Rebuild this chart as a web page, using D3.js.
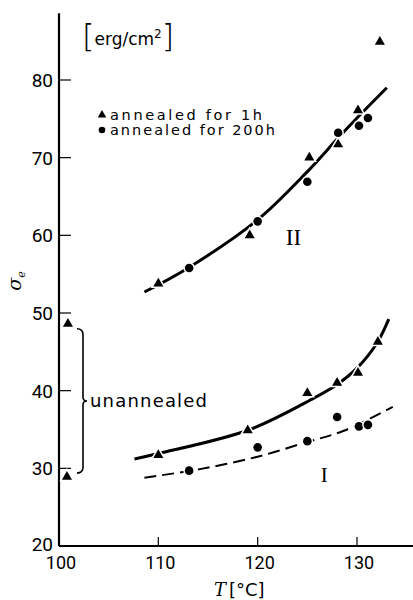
<!DOCTYPE html>
<html>
<head>
<meta charset="utf-8">
<script src="https://cdn.jsdelivr.net/npm/d3@7"></script>
<style>
  body { margin: 0; background: #fff; }
  svg { display: block; }
</style>
</head>
<body>
<svg id="chart" width="413" height="600"></svg>
<script>
// tick values
const xTicks = [100, 110, 120, 130];
const xInnerTicks = [110, 120, 130];
const yTicks = [20, 30, 40, 50, 60, 70, 80];
const yInnerTicks = [30, 40, 50, 60, 70, 80];

// measured points [T, sigma_e]
const tri1hII = [[110, 53.8], [119.2, 60.0], [125.2, 70.0], [128.1, 71.7], [130.1, 76.1], [132.3, 84.9]];
const dot200hII = [[113.1, 55.8], [120, 61.8], [125, 66.9], [128.1, 73.2], [130.2, 74.1], [131.1, 75.1]];
const tri1hI = [[110, 31.7], [119, 34.9], [125, 39.7], [128, 41.0], [130.1, 42.3], [132.1, 46.3]];
const dot200hI = [[113.1, 29.7], [120, 32.7], [125, 33.5], [128, 36.6], [130.2, 35.4], [131.1, 35.6]];
const triUnannealed = [[100.9, 48.6], [100.8, 28.9]];

// hand-drawn fit curves
const curveII = [[108.6, 52.7], [113, 55.8], [120, 62], [125, 68.2], [128, 72.4], [130, 75.1], [133, 79]];
const curveI1h = [[107.6, 31.2], [110, 31.9], [119, 34.9], [125.3, 38.8], [128, 40.8], [130, 42.9], [132, 46.1], [133.2, 49.2]];
const curveI200h = [[108.6, 28.8], [114.2, 29.9], [120, 31.5], [125, 33.4], [128.6, 34.8], [133.6, 37.9]];

const legendLabels = ['annealed for 1h', 'annealed for 200h'];
const unannealedRange = [49, 29];

const svg = d3.select('#chart');
const x = d3.scaleLinear().domain([100, 130]).range([59, 357]);
const y = d3.scaleLinear().domain([20, 80]).range([546, 80]);

const tickFont = 'Roboto, "DejaVu Sans", sans-serif';
const textFont = '"DejaVu Sans", sans-serif';

// axes
svg.append('line')
  .attr('x1', x(100)).attr('x2', 413)
  .attr('y1', y(20)).attr('y2', y(20))
  .attr('stroke', '#000').attr('stroke-width', 2.2);
svg.append('line')
  .attr('x1', x(100)).attr('x2', x(100))
  .attr('y1', y(20)).attr('y2', y(88.6))
  .attr('stroke', '#000').attr('stroke-width', 2.2);

svg.selectAll('.ytick').data(yInnerTicks).enter().append('line')
  .attr('x1', x(100)).attr('x2', x(100) + 12)
  .attr('y1', d => y(d)).attr('y2', d => y(d))
  .attr('stroke', '#000').attr('stroke-width', 1.2);
svg.selectAll('.xtick').data(xInnerTicks).enter().append('line')
  .attr('x1', d => x(d)).attr('x2', d => x(d))
  .attr('y1', y(20)).attr('y2', y(20) - 9)
  .attr('stroke', '#000').attr('stroke-width', 1.2);

svg.selectAll('.ylab').data(yTicks).enter().append('text')
  .attr('x', 53).attr('y', d => y(d) + (d === 20 ? 5 : 7))
  .attr('text-anchor', 'end')
  .attr('font-family', tickFont).attr('font-size', 19)
  .text(d => d);
svg.selectAll('.xlab').data(xTicks).enter().append('text')
  .attr('x', d => x(d) + 2).attr('y', 569)
  .attr('text-anchor', 'middle')
  .attr('font-family', tickFont).attr('font-size', 18)
  .text(d => d);

// axis titles
const yt = svg.append('text')
  .attr('transform', 'translate(21,281) rotate(-90)')
  .attr('text-anchor', 'middle')
  .attr('font-family', '"DejaVu Serif", serif').attr('font-size', 19)
  .attr('font-style', 'italic');
yt.append('tspan').text('σ');
yt.append('tspan').attr('font-size', 11).attr('dy', 4).text('e');

const xt = svg.append('text')
  .attr('x', 214).attr('y', 596)
  .attr('font-family', textFont).attr('font-size', 18);
xt.append('tspan').attr('font-family', '"DejaVu Serif", serif').attr('font-style', 'italic').text('T');
xt.append('tspan').attr('dx', 3).text('[°C]');

// unit label
const unit = svg.append('text')
  .attr('x', 82).attr('y', 45)
  .attr('font-family', textFont).attr('font-size', 17);
unit.append('tspan').attr('font-size', 32).attr('font-weight', 200).attr('dy', 2).text('[');
unit.append('tspan').attr('dy', -2).text('erg/cm');
unit.append('tspan').attr('font-size', 12).attr('dy', -7).text('2');
unit.append('tspan').attr('font-size', 32).attr('font-weight', 200).attr('dy', 9).text(']');

// curves
const line = d3.line().x(d => x(d[0])).y(d => y(d[1])).curve(d3.curveCatmullRom);
svg.append('path').datum(curveII).attr('d', line)
  .attr('fill', 'none').attr('stroke', '#000').attr('stroke-width', 3);
svg.append('path').datum(curveI1h).attr('d', line)
  .attr('fill', 'none').attr('stroke', '#000').attr('stroke-width', 3);
svg.append('path').datum(curveI200h).attr('d', line)
  .attr('fill', 'none').attr('stroke', '#000').attr('stroke-width', 2)
  .attr('stroke-dasharray', '12,6');

// markers
const triangle = d3.symbol().type(d3.symbolTriangle).size(44);
function drawTriangles(data) {
  svg.append('g').selectAll('path').data(data).enter().append('path')
    .attr('d', triangle)
    .attr('transform', d => `translate(${x(d[0])},${y(d[1])})`)
    .attr('fill', '#000').attr('stroke', '#fff').attr('stroke-width', 3)
    .attr('paint-order', 'stroke');
}
function drawDots(data) {
  svg.append('g').selectAll('circle').data(data).enter().append('circle')
    .attr('cx', d => x(d[0])).attr('cy', d => y(d[1])).attr('r', 4.3)
    .attr('fill', '#000').attr('stroke', '#fff').attr('stroke-width', 3)
    .attr('paint-order', 'stroke');
}
drawTriangles(tri1hII);
drawTriangles(tri1hI);
drawTriangles(triUnannealed);
drawDots(dot200hII);
drawDots(dot200hI);

// curve labels
svg.append('text').attr('x', x(123.6)).attr('y', y(58.7))
  .attr('text-anchor', 'middle')
  .attr('font-family', '"Liberation Serif", serif').attr('font-size', 23)
  .text('II');
svg.append('text').attr('x', x(126.7)).attr('y', y(28.3))
  .attr('text-anchor', 'middle')
  .attr('font-family', '"Liberation Serif", serif').attr('font-size', 21)
  .text('I');

// legend
const legend = svg.append('g');
legend.append('path').attr('d', d3.symbol().type(d3.symbolTriangle).size(32))
  .attr('transform', 'translate(102,115)');
legend.append('circle').attr('cx', 102).attr('cy', 130).attr('r', 3.3);
legend.selectAll('text').data(legendLabels).enter().append('text')
  .attr('x', 110).attr('y', (d, i) => 120 + i * 15)
  .attr('font-family', textFont).attr('font-size', 14.5)
  .attr('textLength', (d, i) => i ? 165 : 152).attr('lengthAdjust', 'spacing')
  .text(d => d);

// brace for unannealed samples
const bTop = y(unannealedRange[0]) + 8, bBot = y(unannealedRange[1]) - 3, bMid = (bTop + bBot) / 2, bx = 83;
svg.append('path')
  .attr('d', `M${bx - 6},${bTop} Q${bx},${bTop} ${bx},${bTop + 6} L${bx},${bMid - 4} Q${bx},${bMid} ${bx + 4},${bMid}` +
    ` Q${bx},${bMid} ${bx},${bMid + 4} L${bx},${bBot - 6} Q${bx},${bBot} ${bx - 6},${bBot}`)
  .attr('fill', 'none').attr('stroke', '#000').attr('stroke-width', 1.6);
svg.append('text').attr('x', 90).attr('y', bMid + 6)
  .attr('font-family', textFont).attr('font-size', 18)
  .attr('textLength', 117).attr('lengthAdjust', 'spacing')
  .text('unannealed');
</script>
</body>
</html>
